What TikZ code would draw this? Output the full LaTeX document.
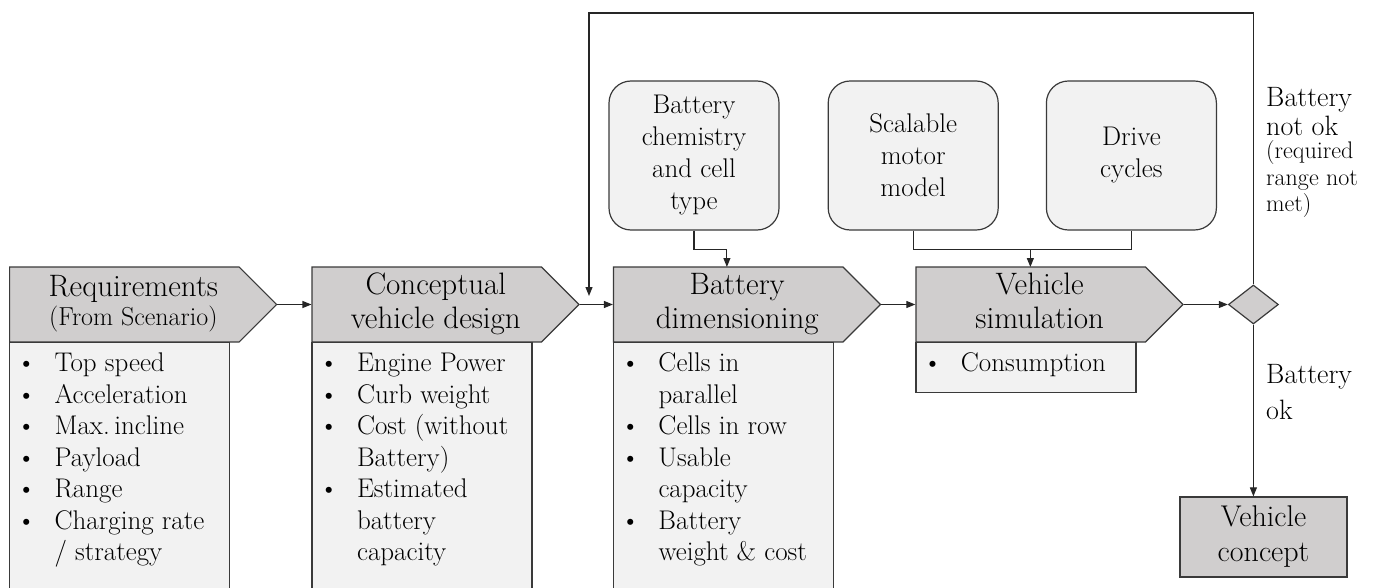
\documentclass[tikz,border=0pt]{standalone}
\usepackage{fontspec}
\usepackage{tikz}
\usetikzlibrary{shapes.geometric, shapes.symbols, arrows.meta, positioning, calc}
\definecolor{stepgray}{HTML}{D0CECE}
\definecolor{listgray}{HTML}{F2F2F2}
\definecolor{edgegray}{HTML}{3A3A3A}

\newcommand{\bullitem}[1]{\par\noindent\hangindent=45pt\hangafter=1\strut\makebox[45pt][l]{\hspace{7pt}\textbullet}#1}
\newcommand{\bulllist}[2]{\parbox[t][#1][t]{220pt}{#2}}
\newcommand{\steptext}[1]{\hspace*{18pt}\begin{tabular}{@{}c@{}}#1\end{tabular}}

\begin{document}
\begin{tikzpicture}[
  x=1pt, y=-1pt,
  stepbox/.style={signal, signal to=east, signal pointer angle=90, draw=edgegray, line width=1.2pt, fill=stepgray, minimum width=267pt, minimum height=75pt, inner sep=0pt, font=\fontsize{31}{34}\selectfont},
  listbox/.style={rectangle, draw=edgegray, line width=1.2pt, fill=listgray, anchor=north west, inner xsep=0pt, inner ysep=7pt, font=\fontsize{27}{31.5}\selectfont},
  inputbox/.style={rectangle, rounded corners=22pt, draw=edgegray, line width=1.2pt, fill=listgray, minimum width=170pt, minimum height=149pt, align=center, font=\fontsize{27}{32}\selectfont},
  decision/.style={diamond, draw=edgegray, line width=1.2pt, fill=stepgray, minimum width=50pt, minimum height=39pt, inner sep=0pt},
  resultbox/.style={rectangle, draw=edgegray, line width=1.2pt, fill=stepgray, minimum width=167pt, minimum height=80pt, align=center, font=\fontsize{30}{35}\selectfont},
  tag/.style={anchor=north west, inner sep=0pt, align=left, font=\fontsize{28}{29}\selectfont},
  flow/.style={draw=black!85, line width=1.1pt},
  arr/.style={flow, -{Triangle[length=9pt, width=7pt]}}
]
  \useasboundingbox (0,0) rectangle (1375,588);

  % Process steps, left to right
  \node[stepbox, anchor=west] (req) at (9,304.5) {\steptext{Requirements\\[-5pt]{\fontsize{26}{30}\selectfont (From Scenario)}}};
  \node[stepbox, right=34pt of req] (concept) {\steptext{Conceptual\\vehicle design}};
  \node[stepbox, right=33pt of concept] (dim) {\steptext{Battery\\dimensioning}};
  \node[stepbox, right=34pt of dim] (sim) {\steptext{Vehicle\\simulation}};

  % Outputs of each step
  \node[listbox] (reqlist) at ($(req.west)+(0,37.5)$) {\bulllist{250pt}{%
    \bullitem{Top speed}\bullitem{Acceleration}\bullitem{Max.\,incline}\bullitem{Payload}\bullitem{Range}\bullitem{Charging rate\\/ strategy}}};
  \node[listbox] (conceptlist) at ($(concept.west)+(0,37.5)$) {\bulllist{250pt}{%
    \bullitem{Engine Power}\bullitem{Curb weight}\bullitem{Cost (without\\Battery)}\bullitem{Estimated\\battery\\capacity}}};
  \node[listbox] (dimlist) at ($(dim.west)+(0,37.5)$) {\bulllist{250pt}{%
    \bullitem{Cells in\\parallel}\bullitem{Cells in row}\bullitem{Usable\\capacity}\bullitem{Battery\\weight \& cost}}};
  \node[listbox] (simlist) at ($(sim.west)+(0,37.5)$) {\bulllist{36pt}{\bullitem{Consumption}}};

  % Model inputs
  \node[inputbox] (chem) at (694,155.5) {Battery\\chemistry\\and cell\\type};
  \node[inputbox, right=48pt of chem] (motor) {Scalable\\motor\\model};
  \node[inputbox, right=47pt of motor] (cycles) {Drive\\cycles};

  % Decision and result
  \node[decision, right=44pt of sim] (check) {};
  \node[resultbox] (vconcept) at (1263.5,537) {Vehicle\\concept};

  \node[tag] (notok) at (1266,87) {Battery\\not ok};
  \node[tag, font=\fontsize{24}{26.5}\selectfont, below=5pt of notok.south west, anchor=north west] (why) {(required\\range not\\met)};
  \node[tag, font=\fontsize{28}{36}\selectfont] (ok) at (1266,364) {Battery\\ok};

  % Main flow
  \draw[arr] (req.east) -- (concept.west);
  \draw[arr] (concept.east) -- (dim.west);
  \draw[arr] (dim.east) -- (sim.west);
  \draw[arr] (sim.east) -- (check.west);
  \draw[arr] (check.south) -- (check.south |- vconcept.north);

  % Loop back when range is not met
  \coordinate (redo) at (589,296);
  \draw[arr] (check.north) -- (check.north |- 0,13) -| (redo);

  % Inputs into the steps
  \draw[arr] (chem.south) -- ++(0,19) -| ($(dim.west)+(114,-37.5)$);
  \draw[flow] (motor.south) -- ++(0,19) -| (cycles.south);
  \coordinate (merge) at ($(sim.west)+(115,-55.5)$);
  \draw[arr] (merge) -- ($(sim.west)+(115,-37.5)$);
\end{tikzpicture}
\end{document}
